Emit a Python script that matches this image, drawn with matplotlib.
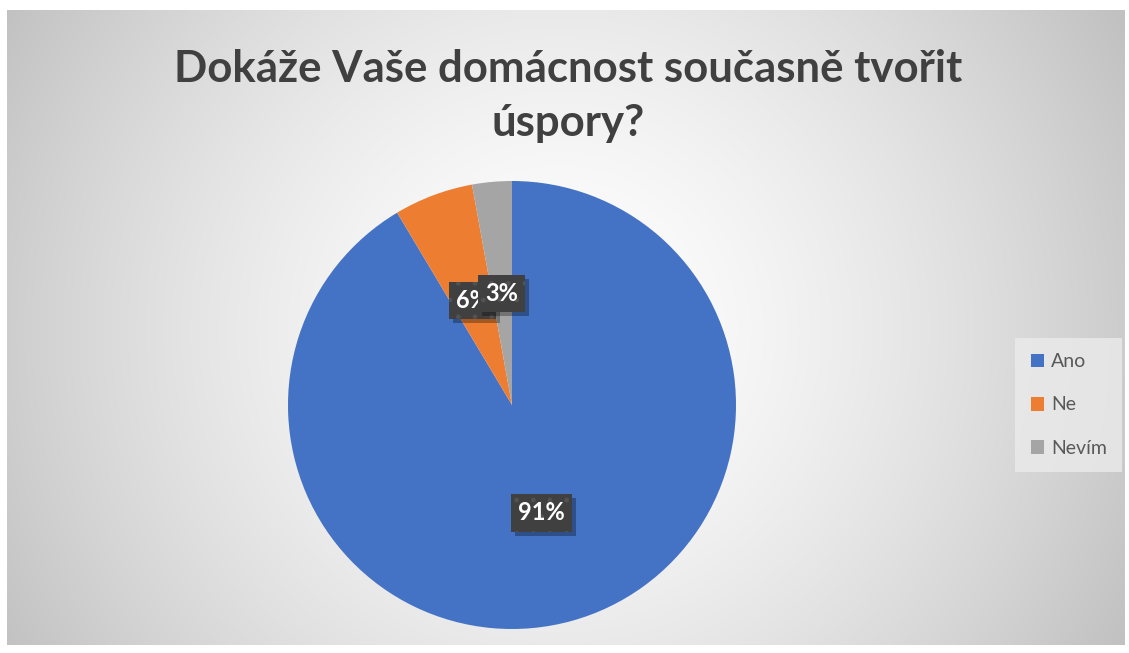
import numpy as np
import matplotlib
matplotlib.use("Agg")
import matplotlib.pyplot as plt
from matplotlib.patches import Patch, Rectangle

title = "Dokáže Vaše domácnost současně tvořit\núspory?"
categories = ["Ano", "Ne", "Nevím"]
values = [32, 2, 1]
pct_labels = ["91%", "6%", "3%"]
colors = ["#4472C4", "#ED7D31", "#A5A5A5"]

FONT = ["Lato", "DejaVu Sans"]
W, H = 1129, 653
fig = plt.figure(figsize=(W / 100, H / 100), dpi=100)
fig.patch.set_facecolor("white")

# background with radial gradient
x0, y0, x1, y1 = 7, 10, 1125, 645
bg = fig.add_axes([x0 / W, 1 - y1 / H, (x1 - x0) / W, (y1 - y0) / H])
bg.set_axis_off()
gx, gy = np.meshgrid(np.linspace(0, x1 - x0, 400), np.linspace(0, y1 - y0, 240))
cx, cy = 560 - x0, 330 - y0
d = np.sqrt((gx - cx) ** 2 + (gy - cy) ** 2) / 640
d = np.clip(d, 0, 1)
val = 1.0 - 0.24 * d ** 1.5
img = np.dstack([val, val, val])
bg.imshow(img, aspect="auto", extent=[0, 1, 0, 1], origin="upper")
bg.set_xlim(0, 1)
bg.set_ylim(0, 1)

# pie
r = 224
pcx, pcy = 512, 405
ax = fig.add_axes([(pcx - r) / W, 1 - (pcy + r) / H, 2 * r / W, 2 * r / H])
ax.set_axis_off()
wedges, _ = ax.pie(values, colors=colors, startangle=90, counterclock=False,
                   radius=1.0, wedgeprops=dict(linewidth=0))
ax.set_xlim(-1, 1)
ax.set_ylim(-1, 1)

labels = []
for i, w in enumerate(wedges):
    mid = np.deg2rad((w.theta1 + w.theta2) / 2)
    tx, ty = 0.5 * np.cos(mid), 0.5 * np.sin(mid)
    t = ax.text(tx, ty, pct_labels[i], color="white", zorder=6 + 2 * i,
                ha="center", va="center", fontsize=17, fontweight="bold", family=FONT,
                bbox=dict(boxstyle="square,pad=0.3", fc="#404040", ec="#525252",
                          lw=0, hatch="."))
    labels.append(t)

fig.canvas.draw()
renderer = fig.canvas.get_renderer()
for i, t in enumerate(labels):
    ext = t.get_bbox_patch().get_window_extent(renderer)
    ax.add_artist(Rectangle((ext.x0 + 4, ext.y0 - 4), ext.width, ext.height,
                            transform=None, facecolor=(0, 0, 0, 0.3),
                            edgecolor="none", zorder=5 + 2 * i))

fig.text(568 / W, 1 - 96 / H, title, ha="center", va="center", fontsize=31.5,
         fontweight="bold", color="#404040", family=FONT, linespacing=1.42)

handles = [Patch(facecolor=c, edgecolor="none") for c in colors]
leg = fig.legend(handles, categories, loc="center left",
                 bbox_to_anchor=(1015 / W, 1 - 405 / H), frameon=True,
                 handlelength=0.7, handleheight=0.7,
                 handletextpad=0.35, labelspacing=1.35, borderpad=0.8,
                 borderaxespad=0,
                 prop=dict(family=FONT, size=14))
leg.get_frame().set_facecolor("#ebebeb")
leg.get_frame().set_edgecolor("none")
leg.get_frame().set_alpha(0.8)
leg.get_frame().set_boxstyle("square", pad=0)
for txt in leg.get_texts():
    txt.set_color("#595959")

fig.savefig("out.png", dpi=100)
